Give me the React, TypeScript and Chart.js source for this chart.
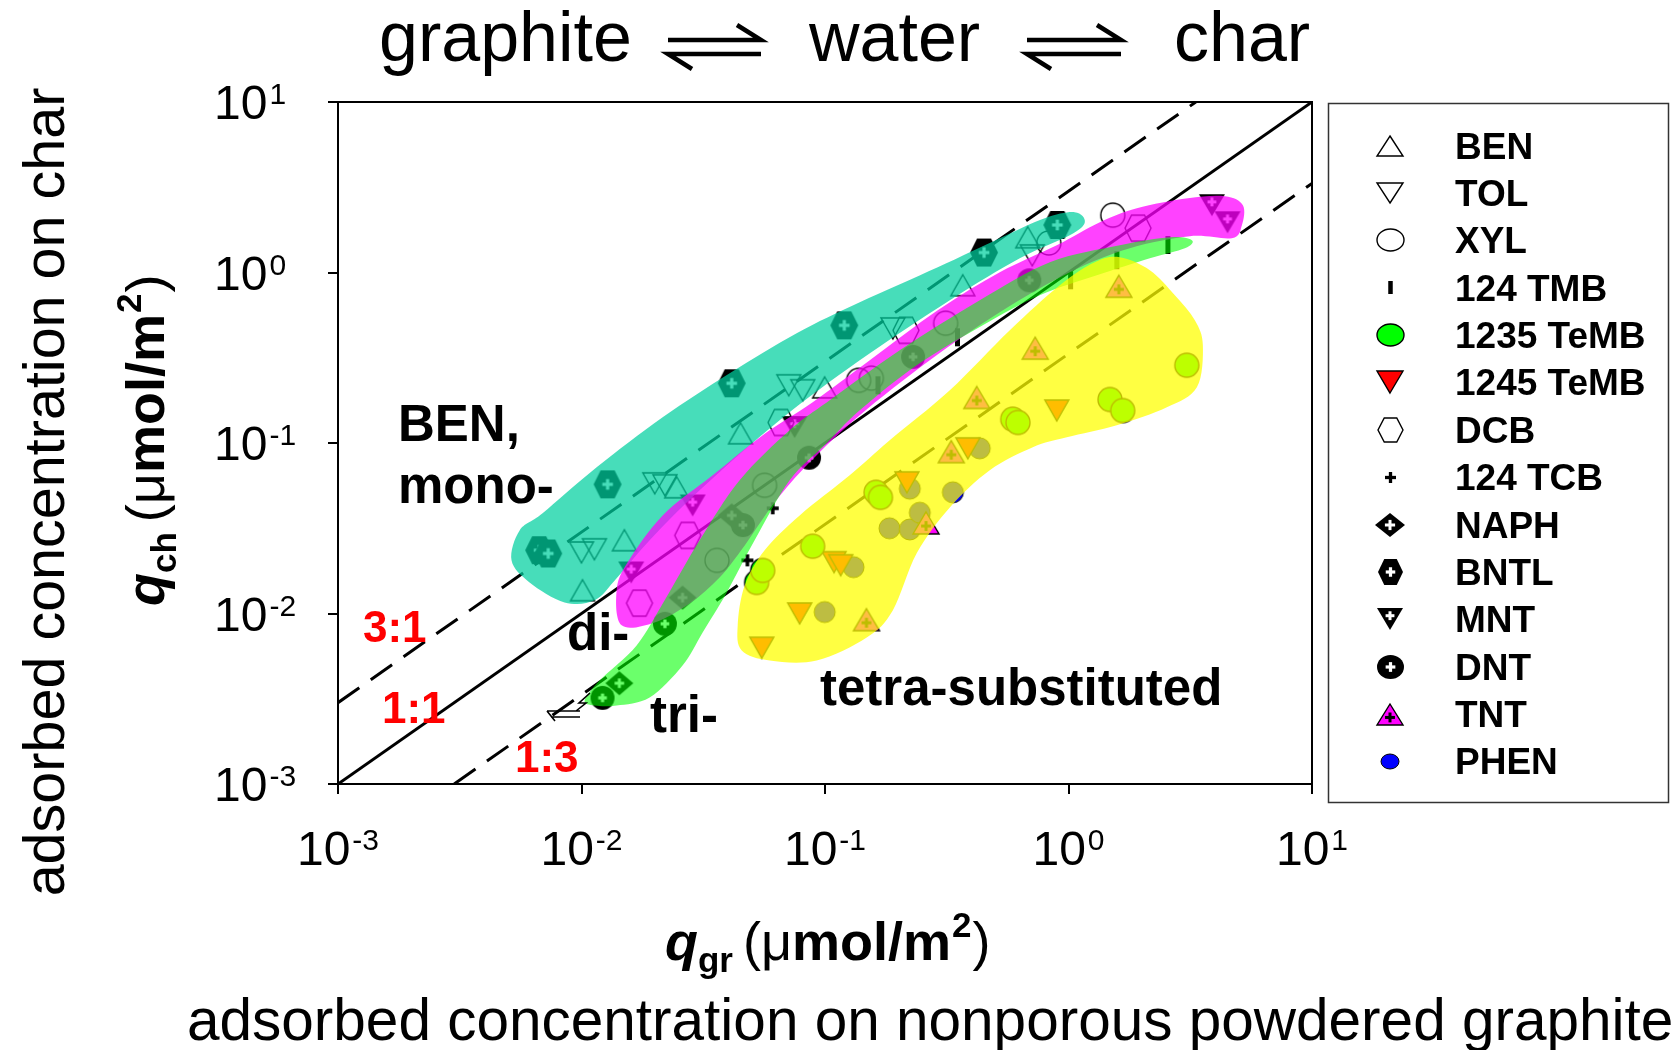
import React, { useEffect, useRef } from 'react';
import { Chart, registerables } from 'chart.js';

Chart.register(...registerables);

type Pt = [number, number];

const FONT = '"Liberation Sans", Arial, Helvetica, sans-serif';

// ---------- axes ----------
const axisMin = 0.001;
const axisMax = 10;
const decadeTicks = [0.001, 0.01, 0.1, 1, 10];
const decadeExponents = ['-3', '-2', '-1', '0', '1'];

// ---------- series (q_gr, q_ch) in umol/m2 ----------
const seriesLabels = ['BEN', 'TOL', 'XYL', '124 TMB', '1235 TeMB', '1245 TeMB', 'DCB', '124 TCB', 'NAPH', 'BNTL', 'MNT', 'DNT', 'TNT', 'PHEN'];

const benData: Pt[] = [[0.0101, 0.0137], [0.015, 0.0269], [0.0246, 0.055], [0.045, 0.114], [0.0997, 0.212], [0.368, 0.842], [0.68, 1.61]];
const tolData: Pt[] = [[0.01, 0.0228], [0.0113, 0.0238], [0.02, 0.058], [0.022, 0.0565], [0.071, 0.218], [0.081, 0.204], [0.19, 0.47], [0.71, 1.26]];
const xylData: Pt[] = [[0.036, 0.0205], [0.0565, 0.0565], [0.1375, 0.233], [0.155, 0.24], [0.313, 0.504], [0.83, 1.49], [1.52, 2.17]];
const tmbData: Pt[] = [[0.165, 0.218], [0.35, 0.417], [1.02, 0.9], [1.58, 1.18], [2.56, 1.45]];
const temb1235Data: Pt[] = [[0.0524, 0.0152], [0.0555, 0.0179], [0.089, 0.0248], [0.162, 0.0514], [0.169, 0.048], [0.59, 0.138], [0.62, 0.132], [1.48, 0.18], [1.67, 0.155], [3.06, 0.286]];
const temb1245Data: Pt[] = [[0.055, 0.0063], [0.0787, 0.01], [0.109, 0.02], [0.116, 0.0192], [0.217, 0.0588], [0.386, 0.093], [0.895, 0.155]];
const dcbData: Pt[] = [[0.0173, 0.0115], [0.0273, 0.0287], [0.066, 0.132], [0.215, 0.458], [1.93, 1.82]];
const tcbData: Pt[] = [[0.048, 0.0205], [0.061, 0.0414]];
const naphData: Pt[] = [[0.0143, 0.0039], [0.026, 0.0124], [0.0414, 0.0376]];
const bntlData: Pt[] = [[0.0067, 0.0235], [0.0073, 0.0225], [0.0128, 0.0572], [0.0414, 0.224], [0.12, 0.49], [0.45, 1.31], [0.9, 1.9]];
const mntData: Pt[] = [[0.016, 0.0174], [0.0286, 0.043], [0.075, 0.124], [3.88, 2.48], [4.5, 1.97]];
const dntData: Pt[] = [[0.0122, 0.0032], [0.022, 0.0087], [0.046, 0.033], [0.086, 0.082], [0.23, 0.32], [0.69, 0.9]];
const tntData: Pt[] = [[0.148, 0.0092], [0.26, 0.034], [0.33, 0.089], [0.42, 0.185], [0.73, 0.36], [1.61, 0.83]];
const phenData: Pt[] = [[0.0997, 0.0102], [0.131, 0.0187], [0.184, 0.0316], [0.223, 0.0311], [0.245, 0.039], [0.223, 0.054], [0.335, 0.0514], [0.432, 0.093]];

// ---------- reference lines ----------
const line11: Pt[] = [[0.001, 0.001], [10, 10]];
const line31: Pt[] = [[0.001, 0.003], [3.333, 10]];
const line13: Pt[] = [[0.003, 0.001], [10, 3.333]];

// ---------- shaded groups (outline vertices, data units) ----------
const tealRegion: Pt[] = [[0.00516, 0.0205], [0.00557, 0.0307], [0.00692, 0.0387], [0.01154, 0.072], [0.02154, 0.1415], [0.0406, 0.2564], [0.0765, 0.4404], [0.1389, 0.669], [0.2904, 1.074], [0.5222, 1.59], [0.799, 2.083], [1.061, 2.259], [1.167, 1.973], [1.012, 1.655], [0.631, 1.213], [0.3255, 0.688], [0.1389, 0.3057], [0.0651, 0.1359], [0.03056, 0.0528], [0.01905, 0.02685], [0.01394, 0.01607], [0.01132, 0.01194], [0.00852, 0.01162], [0.00612, 0.01522]];
const magentaRegion: Pt[] = [[0.01462, 0.00852], [0.01394, 0.01366], [0.01547, 0.01995], [0.02154, 0.0376], [0.03457, 0.0646], [0.05547, 0.111], [0.089, 0.1733], [0.1527, 0.3057], [0.2904, 0.601], [0.5222, 1.004], [0.895, 1.446], [1.345, 1.973], [1.909, 2.384], [3.092, 2.729], [4.387, 2.803], [5.202, 2.483], [5.153, 1.895], [4.688, 1.59], [3.151, 1.633], [1.786, 1.388], [1.012, 1.004], [0.5222, 0.5848], [0.2693, 0.3057], [0.1389, 0.1455], [0.0865, 0.077], [0.0622, 0.0449], [0.0468, 0.02509], [0.0369, 0.01628], [0.0278, 0.01146], [0.01996, 0.00887]];
const greenRegion: Pt[] = [[0.0103, 0.00309], [0.01187, 0.00405], [0.01684, 0.0065], [0.02195, 0.01194], [0.03056, 0.02685], [0.0446, 0.0604], [0.0716, 0.1187], [0.1045, 0.178], [0.2027, 0.35], [0.432, 0.688], [0.838, 1.149], [1.624, 1.446], [2.608, 1.611], [3.211, 1.547], [3.005, 1.388], [2.158, 1.213], [1.307, 0.964], [0.762, 0.736], [0.4445, 0.4906], [0.238, 0.2858], [0.1389, 0.1555], [0.0997, 0.0969], [0.0716, 0.0604], [0.0514, 0.02685], [0.0395, 0.0133], [0.03144, 0.00774], [0.026, 0.00496], [0.01905, 0.00322], [0.01394, 0.00289], [0.01132, 0.00289]];
const yellowRegion: Pt[] = [[3.563, 0.3745], [3.303, 0.5248], [2.734, 0.736], [2.158, 1.032], [1.624, 1.229], [1.282, 1.149], [0.921, 0.842], [0.574, 0.4586], [0.3255, 0.2039], [0.1844, 0.1037], [0.1263, 0.0646], [0.0787, 0.0376], [0.0565, 0.02346], [0.0468, 0.01462], [0.0438, 0.00852], [0.0455, 0.00607], [0.0593, 0.0053], [0.0924, 0.0053], [0.1484, 0.00724], [0.1898, 0.01043], [0.238, 0.02253], [0.3255, 0.0419], [0.475, 0.0692], [0.7135, 0.0944], [0.984, 0.108], [1.579, 0.127], [2.535, 0.162], [3.367, 0.2123]];

// ---------- styling (kept apart from data) ----------
const seriesStyles = [
  { kind: 'openUp', plot: [24, 21], legend: [26, 20] },
  { kind: 'openDown', plot: [24, 21], legend: [26, 20] },
  { kind: 'openCircle', plot: [24, 24], legend: [27, 22] },
  { kind: 'bar', plot: [5, 18], legend: [4.5, 13] },
  { kind: 'greenCircle', plot: [24, 24], legend: [27, 22] },
  { kind: 'redDown', plot: [24, 21], legend: [26, 22] },
  { kind: 'openHex', plot: [26, 26], legend: [25, 24] },
  { kind: 'plus', plot: [12, 12], legend: [11, 11] },
  { kind: 'naph', plot: [28, 24], legend: [30, 24] },
  { kind: 'bntl', plot: [28, 28], legend: [25, 26] },
  { kind: 'mnt', plot: [26, 22], legend: [26, 22] },
  { kind: 'dnt', plot: [24, 24], legend: [27, 24] },
  { kind: 'tnt', plot: [26, 22], legend: [26, 21] },
  { kind: 'phen', plot: [21, 21], legend: [18, 15] },
];
const seriesData: Pt[][] = [benData, tolData, xylData, tmbData, temb1235Data, temb1245Data, dcbData, tcbData, naphData, bntlData, mntData, dntData, tntData, phenData];

const regions = [
  { pts: tealRegion, color: 'rgba(0, 208, 160, 0.72)' },
  { pts: magentaRegion, color: 'rgba(255, 0, 255, 0.74)' },
  { pts: greenRegion, color: 'rgba(0, 255, 0, 0.58)' },
  { pts: yellowRegion, color: 'rgba(255, 255, 0, 0.74)' },
];

function drawMarker(ctx: CanvasRenderingContext2D, kind: string, cx: number, cy: number, w: number, h: number) {
  ctx.save();
  ctx.strokeStyle = '#000';
  ctx.lineWidth = 1.4;
  ctx.lineJoin = 'miter';
  const triUp = () => {
    ctx.beginPath();
    ctx.moveTo(cx, cy - h / 2);
    ctx.lineTo(cx + w / 2, cy + h / 2);
    ctx.lineTo(cx - w / 2, cy + h / 2);
    ctx.closePath();
  };
  const triDown = () => {
    ctx.beginPath();
    ctx.moveTo(cx, cy + h / 2);
    ctx.lineTo(cx + w / 2, cy - h / 2);
    ctx.lineTo(cx - w / 2, cy - h / 2);
    ctx.closePath();
  };
  const ellipse = () => {
    ctx.beginPath();
    ctx.ellipse(cx, cy, w / 2, h / 2, 0, 0, Math.PI * 2);
  };
  const hexagon = () => {
    ctx.beginPath();
    for (let i = 0; i < 6; i++) {
      const a = (i * Math.PI) / 3;
      const x = cx + (w / 2) * Math.cos(a);
      const y = cy + (h / 2) * Math.sin(a) / 0.866;
      const yy = Math.max(cy - h / 2, Math.min(cy + h / 2, y));
      if (i === 0) ctx.moveTo(x, yy);
      else ctx.lineTo(x, yy);
    }
    ctx.closePath();
  };
  const diamond = () => {
    ctx.beginPath();
    ctx.moveTo(cx, cy - h / 2);
    ctx.lineTo(cx + w / 2, cy);
    ctx.lineTo(cx, cy + h / 2);
    ctx.lineTo(cx - w / 2, cy);
    ctx.closePath();
  };
  const cross = (color: string, x: number, y: number, len: number, th: number) => {
    ctx.fillStyle = color;
    ctx.fillRect(x - len / 2, y - th / 2, len, th);
    ctx.fillRect(x - th / 2, y - len / 2, th, len);
  };
  switch (kind) {
    case 'openUp':
      triUp(); ctx.stroke(); break;
    case 'openDown':
      triDown(); ctx.stroke(); break;
    case 'openCircle':
      ellipse(); ctx.stroke(); break;
    case 'bar':
      ctx.fillStyle = '#000'; ctx.fillRect(cx - w / 2, cy - h / 2, w, h); break;
    case 'greenCircle':
      ellipse(); ctx.fillStyle = '#00ff00'; ctx.fill(); ctx.stroke(); break;
    case 'redDown':
      triDown(); ctx.fillStyle = '#ff0000'; ctx.fill(); ctx.stroke(); break;
    case 'openHex':
      hexagon(); ctx.stroke(); break;
    case 'plus':
      cross('#000', cx, cy, w, Math.max(2.6, w * 0.3)); break;
    case 'naph':
      diamond(); ctx.fillStyle = '#000'; ctx.fill(); cross('#fff', cx, cy, w * 0.34, 3); break;
    case 'bntl':
      hexagon(); ctx.fillStyle = '#000'; ctx.fill(); cross('#fff', cx, cy, w * 0.38, 3.2); break;
    case 'mnt':
      triDown(); ctx.fillStyle = '#000'; ctx.fill(); cross('#fff', cx, cy - h * 0.15, w * 0.34, 3); break;
    case 'dnt':
      ellipse(); ctx.fillStyle = '#000'; ctx.fill(); cross('#fff', cx, cy, w * 0.36, 3.2); break;
    case 'tnt':
      triUp(); ctx.fillStyle = '#ff00ff'; ctx.fill(); ctx.stroke(); cross('#000', cx, cy + h * 0.14, w * 0.38, 3); break;
    case 'phen':
      ellipse(); ctx.fillStyle = '#0000ff'; ctx.fill(); ctx.lineWidth = 1; ctx.stroke(); break;
  }
  ctx.restore();
}

function makeMarker(kind: string, w: number, h: number): HTMLCanvasElement {
  const c = document.createElement('canvas');
  c.width = Math.ceil(w) + 4;
  c.height = Math.ceil(h) + 4;
  const g = c.getContext('2d')!;
  drawMarker(g, kind, c.width / 2, c.height / 2, w, h);
  return c;
}

function closedSpline(ctx: CanvasRenderingContext2D, pts: number[][]) {
  const n = pts.length;
  ctx.beginPath();
  ctx.moveTo(pts[0][0], pts[0][1]);
  for (let i = 0; i < n; i++) {
    const p0 = pts[(i - 1 + n) % n];
    const p1 = pts[i];
    const p2 = pts[(i + 1) % n];
    const p3 = pts[(i + 2) % n];
    const t = 1 / 6;
    ctx.bezierCurveTo(
      p1[0] + (p2[0] - p0[0]) * t, p1[1] + (p2[1] - p0[1]) * t,
      p2[0] - (p3[0] - p1[0]) * t, p2[1] - (p3[1] - p1[1]) * t,
      p2[0], p2[1]
    );
  }
  ctx.closePath();
}

function drawPower(ctx: CanvasRenderingContext2D, x: number, baseline: number, exp: string, align: 'left' | 'center') {
  ctx.font = `48px ${FONT}`;
  const w1 = ctx.measureText('10').width;
  ctx.font = `30px ${FONT}`;
  const w2 = ctx.measureText(exp).width;
  const total = w1 + 2 + w2;
  const x0 = align === 'center' ? x - total / 2 : x;
  ctx.textAlign = 'left';
  ctx.font = `48px ${FONT}`;
  ctx.fillText('10', x0, baseline);
  ctx.font = `30px ${FONT}`;
  ctx.fillText(exp, x0 + w1 + 2, baseline - 15);
}

function drawUnitLabel(ctx: CanvasRenderingContext2D, sub: string) {
  let x = 0;
  ctx.textAlign = 'left';
  ctx.font = `italic bold 54px ${FONT}`;
  ctx.fillText('q', x, 0);
  x += ctx.measureText('q').width;
  ctx.font = `bold 35px ${FONT}`;
  ctx.fillText(sub, x, 12);
  x += ctx.measureText(sub).width + 10;
  ctx.font = `54px ${FONT}`;
  ctx.fillText('(\u03bc', x, 0);
  x += ctx.measureText('(\u03bc').width;
  ctx.font = `bold 54px ${FONT}`;
  ctx.fillText('mol/m', x, 0);
  x += ctx.measureText('mol/m').width + 1;
  ctx.font = `bold 35px ${FONT}`;
  ctx.fillText('2', x, -23);
  x += ctx.measureText('2').width + 1;
  ctx.font = `54px ${FONT}`;
  ctx.fillText(')', x, 0);
}

function drawEquilibrium(ctx: CanvasRenderingContext2D, x0: number, x1: number, yTop: number, yBot: number) {
  ctx.save();
  ctx.strokeStyle = '#000';
  ctx.lineWidth = 4.5;
  ctx.lineCap = 'butt';
  ctx.lineJoin = 'miter';
  ctx.beginPath();
  ctx.moveTo(x0, yTop);
  ctx.lineTo(x1, yTop);
  ctx.lineTo(x1 - 24, yTop - 15);
  ctx.stroke();
  ctx.beginPath();
  ctx.moveTo(x1, yBot);
  ctx.lineTo(x0, yBot);
  ctx.lineTo(x0 + 24, yBot + 15);
  ctx.stroke();
  ctx.restore();
}

export default function App() {
  const ref = useRef<HTMLCanvasElement>(null);

  useEffect(() => {
    const canvas = ref.current;
    if (!canvas) return;

    const plotImgs = seriesStyles.map((s) => makeMarker(s.kind, s.plot[0], s.plot[1]));
    const legendImgs = seriesStyles.map((s) => makeMarker(s.kind, s.legend[0], s.legend[1]));

    const toXY = (pts: Pt[]) => pts.map(([x, y]) => ({ x, y }));

    const lineDatasets = [
      { label: '1:1', data: toXY(line11), dash: [] as number[] },
      { label: '3:1', data: toXY(line31), dash: [26, 14] },
      { label: '1:3', data: toXY(line13), dash: [26, 14] },
    ].map((l) => ({
      label: l.label,
      data: l.data,
      showLine: true,
      borderColor: '#000',
      borderWidth: 3,
      borderDash: l.dash,
      pointRadius: 0,
      fill: false,
      order: 5,
    }));

    const markerDatasets = seriesLabels.map((label, i) => ({
      label,
      data: toXY(seriesData[i]),
      showLine: false,
      pointStyle: plotImgs[i],
      pointRadius: 10,
      order: 1,
    }));

    const overlayPlugin = {
      id: 'overlayPlugin',
      afterDatasetsDraw(chart: any) {
        const { ctx, chartArea: ca, scales } = chart;
        ctx.save();
        ctx.beginPath();
        ctx.rect(ca.left, ca.top, ca.right - ca.left, ca.bottom - ca.top);
        ctx.clip();
        regions.forEach((r) => {
          const px = r.pts.map(([x, y]) => [scales.x.getPixelForValue(x), scales.y.getPixelForValue(y)]);
          ctx.fillStyle = r.color;
          closedSpline(ctx, px);
          ctx.fill();
        });
        ctx.restore();
      },
      afterDraw(chart: any) {
        const { ctx, chartArea: ca, scales } = chart;
        ctx.save();
        // top and right frame
        ctx.strokeStyle = '#000';
        ctx.lineWidth = 2;
        ctx.beginPath();
        ctx.moveTo(ca.left, ca.top);
        ctx.lineTo(ca.right, ca.top);
        ctx.lineTo(ca.right, ca.bottom);
        ctx.stroke();

        // tick labels
        ctx.fillStyle = '#000';
        ctx.textBaseline = 'alphabetic';
        decadeTicks.forEach((v, i) => {
          drawPower(ctx, scales.x.getPixelForValue(v), 865, decadeExponents[i], 'center');
          drawPower(ctx, 214, scales.y.getPixelForValue(v) + 17, decadeExponents[i], 'left');
        });

        // title
        ctx.font = `70px ${FONT}`;
        ctx.textAlign = 'left';
        ctx.fillText('graphite', 379, 61);
        ctx.fillText('water', 809, 61);
        ctx.fillText('char', 1174, 61);
        drawEquilibrium(ctx, 668, 761, 40, 54);
        drawEquilibrium(ctx, 1027, 1121, 40, 54);

        // outer axis titles
        ctx.font = `58.5px ${FONT}`;
        ctx.textAlign = 'left';
        ctx.fillText('adsorbed concentration on nonporous powdered graphite', 187, 1040);
        ctx.save();
        ctx.translate(64, 492);
        ctx.rotate(-Math.PI / 2);
        ctx.font = `57.5px ${FONT}`;
        ctx.textAlign = 'center';
        ctx.fillText('adsorbed concentration on char', 0, 0);
        ctx.restore();

        // inner axis titles
        ctx.save();
        ctx.translate(665, 960);
        drawUnitLabel(ctx, 'gr');
        ctx.restore();
        ctx.save();
        ctx.translate(164, 606);
        ctx.rotate(-Math.PI / 2);
        drawUnitLabel(ctx, 'ch');
        ctx.restore();

        // group annotations
        ctx.textAlign = 'left';
        ctx.fillStyle = '#000';
        ctx.font = `bold 51px ${FONT}`;
        ctx.fillText('BEN,', 398, 441);
        ctx.fillText('mono-', 398, 503);
        ctx.fillText('di-', 567, 650);
        ctx.fillText('tri-', 650, 732);
        ctx.fillText('tetra-substituted', 820, 705);
        ctx.fillStyle = '#ff0000';
        ctx.font = `bold 44px ${FONT}`;
        ctx.fillText('3:1', 363, 642);
        ctx.fillText('1:1', 382, 723);
        ctx.fillText('1:3', 515, 772);

        // small equilibrium mark near 1:3 line
        ctx.strokeStyle = '#000';
        ctx.lineWidth = 1.6;
        ctx.beginPath();
        ctx.moveTo(547, 711); ctx.lineTo(580, 711);
        ctx.moveTo(551, 717); ctx.lineTo(580, 717);
        ctx.moveTo(547, 711); ctx.lineTo(555, 721);
        ctx.moveTo(576, 711); ctx.lineTo(586, 703); ctx.lineTo(579, 703); ctx.lineTo(590, 693);
        ctx.stroke();

        // legend
        ctx.strokeStyle = '#333';
        ctx.lineWidth = 1.5;
        ctx.strokeRect(1328.5, 103.5, 340, 699);
        ctx.fillStyle = '#000';
        ctx.font = `bold 37px ${FONT}`;
        seriesLabels.forEach((label, i) => {
          const cy = 145.5 + i * 47.38;
          const img = legendImgs[i];
          ctx.drawImage(img, Math.round(1390 - img.width / 2), Math.round(cy - img.height / 2));
          ctx.fillText(label, 1455, cy + 13);
        });
        ctx.restore();
      },
    };

    const axisCommon = {
      type: 'logarithmic' as const,
      min: axisMin,
      max: axisMax,
      ticks: { display: false },
      grid: { drawOnChartArea: false, drawTicks: true, tickLength: 10, color: '#000', lineWidth: 2 },
      border: { display: true, color: '#000', width: 2 },
      afterBuildTicks: (scale: any) => {
        scale.ticks = decadeTicks.map((v) => ({ value: v }));
      },
    };

    const chart = new Chart(canvas, {
      type: 'scatter',
      data: { datasets: [...lineDatasets, ...markerDatasets] as any },
      options: {
        animation: false,
        responsive: false,
        devicePixelRatio: 1,
        events: [],
        layout: { padding: { left: 0, top: 102, right: 365, bottom: 0 } },
        plugins: { legend: { display: false }, tooltip: { enabled: false }, title: { display: false } },
        scales: {
          x: { ...axisCommon, position: 'bottom', afterFit: (s: any) => { s.height = 266; } } as any,
          y: { ...axisCommon, position: 'left', afterFit: (s: any) => { s.width = 338; } } as any,
        },
      },
      plugins: [overlayPlugin],
    });

    return () => chart.destroy();
  }, []);

  return (
    <div style={{ position: 'absolute', left: 0, top: 0, width: 1677, height: 1050, background: '#fff' }}>
      <canvas ref={ref} width={1677} height={1050} style={{ display: 'block', width: 1677, height: 1050 }} />
    </div>
  );
}
